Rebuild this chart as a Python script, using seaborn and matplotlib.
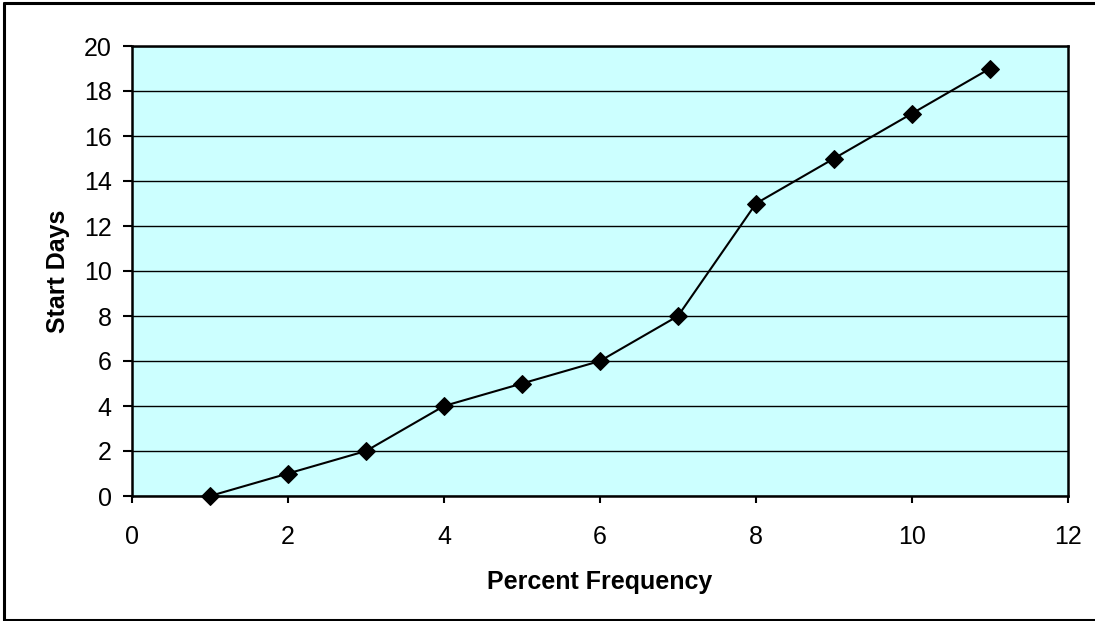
import matplotlib
matplotlib.use("Agg")
import matplotlib.pyplot as plt
from matplotlib.lines import Line2D
import seaborn as sns
import pandas as pd

# Start days against percent frequency
percent_frequency = [1, 2, 3, 4, 5, 6, 7, 8, 9, 10, 11]
start_days = [0, 1, 2, 4, 5, 6, 8, 13, 15, 17, 19]
x_ticks = [0, 2, 4, 6, 8, 10, 12]
y_ticks = [0, 2, 4, 6, 8, 10, 12, 14, 16, 18, 20]

sns.set_theme(style="white")
plt.rcParams["font.family"] = ["Liberation Sans", "DejaVu Sans"]
plt.rcParams["text.color"] = "black"
plt.rcParams["axes.labelcolor"] = "black"
plt.rcParams["xtick.color"] = "black"
plt.rcParams["ytick.color"] = "black"

df = pd.DataFrame({"Percent Frequency": percent_frequency, "Start Days": start_days})

fig = plt.figure(figsize=(10.95, 6.21), dpi=100)
ax = fig.add_axes([132 / 1095, 1 - 496 / 621, (1068 - 132) / 1095, (496 - 46) / 621])
ax.set_facecolor("#CCFFFF")

sns.lineplot(data=df, x="Percent Frequency", y="Start Days", ax=ax,
             color="black", linewidth=1.5, marker="D", markersize=9.5,
             markeredgecolor="black", markerfacecolor="black", zorder=3)
for line in ax.lines:
    line.set_clip_on(False)

ax.set_xlim(0, 12)
ax.set_ylim(0, 20)
ax.set_xticks(x_ticks)
ax.set_yticks(y_ticks)
ax.set_xticklabels([str(v) for v in x_ticks])
ax.set_yticklabels([str(v) for v in y_ticks])

ax.yaxis.grid(True, color="black", linewidth=1.0)
ax.xaxis.grid(False)
ax.set_axisbelow(True)

for side in ["left", "right", "top", "bottom"]:
    ax.spines[side].set_visible(True)
    ax.spines[side].set_color("black")
    ax.spines[side].set_linewidth(1.8)

ax.tick_params(axis="y", direction="out", length=6.5, width=1.5, colors="black",
               labelsize=18, pad=8, left=True)
ax.tick_params(axis="x", direction="out", length=5, width=1.5, colors="black",
               labelsize=18, pad=16, bottom=True)

ax.set_xlabel("Percent Frequency", fontsize=18, fontweight="bold", labelpad=15,
              color="black")
ax.set_ylabel("Start Days", fontsize=18, fontweight="bold", labelpad=10,
              color="black")

# Outer chart frame
frame_kw = dict(color="black", linewidth=2.2, transform=fig.transFigure, clip_on=False)
fig.add_artist(Line2D([4 / 1095, 4 / 1095], [1 - 3 / 621, 1 - 619.5 / 621], **frame_kw))
fig.add_artist(Line2D([4 / 1095, 1.0], [1 - 3 / 621, 1 - 3 / 621], **frame_kw))
fig.add_artist(Line2D([4 / 1095, 1.0], [1 - 619.5 / 621, 1 - 619.5 / 621], **frame_kw))

fig.savefig("out.png", dpi=100, facecolor="white")
